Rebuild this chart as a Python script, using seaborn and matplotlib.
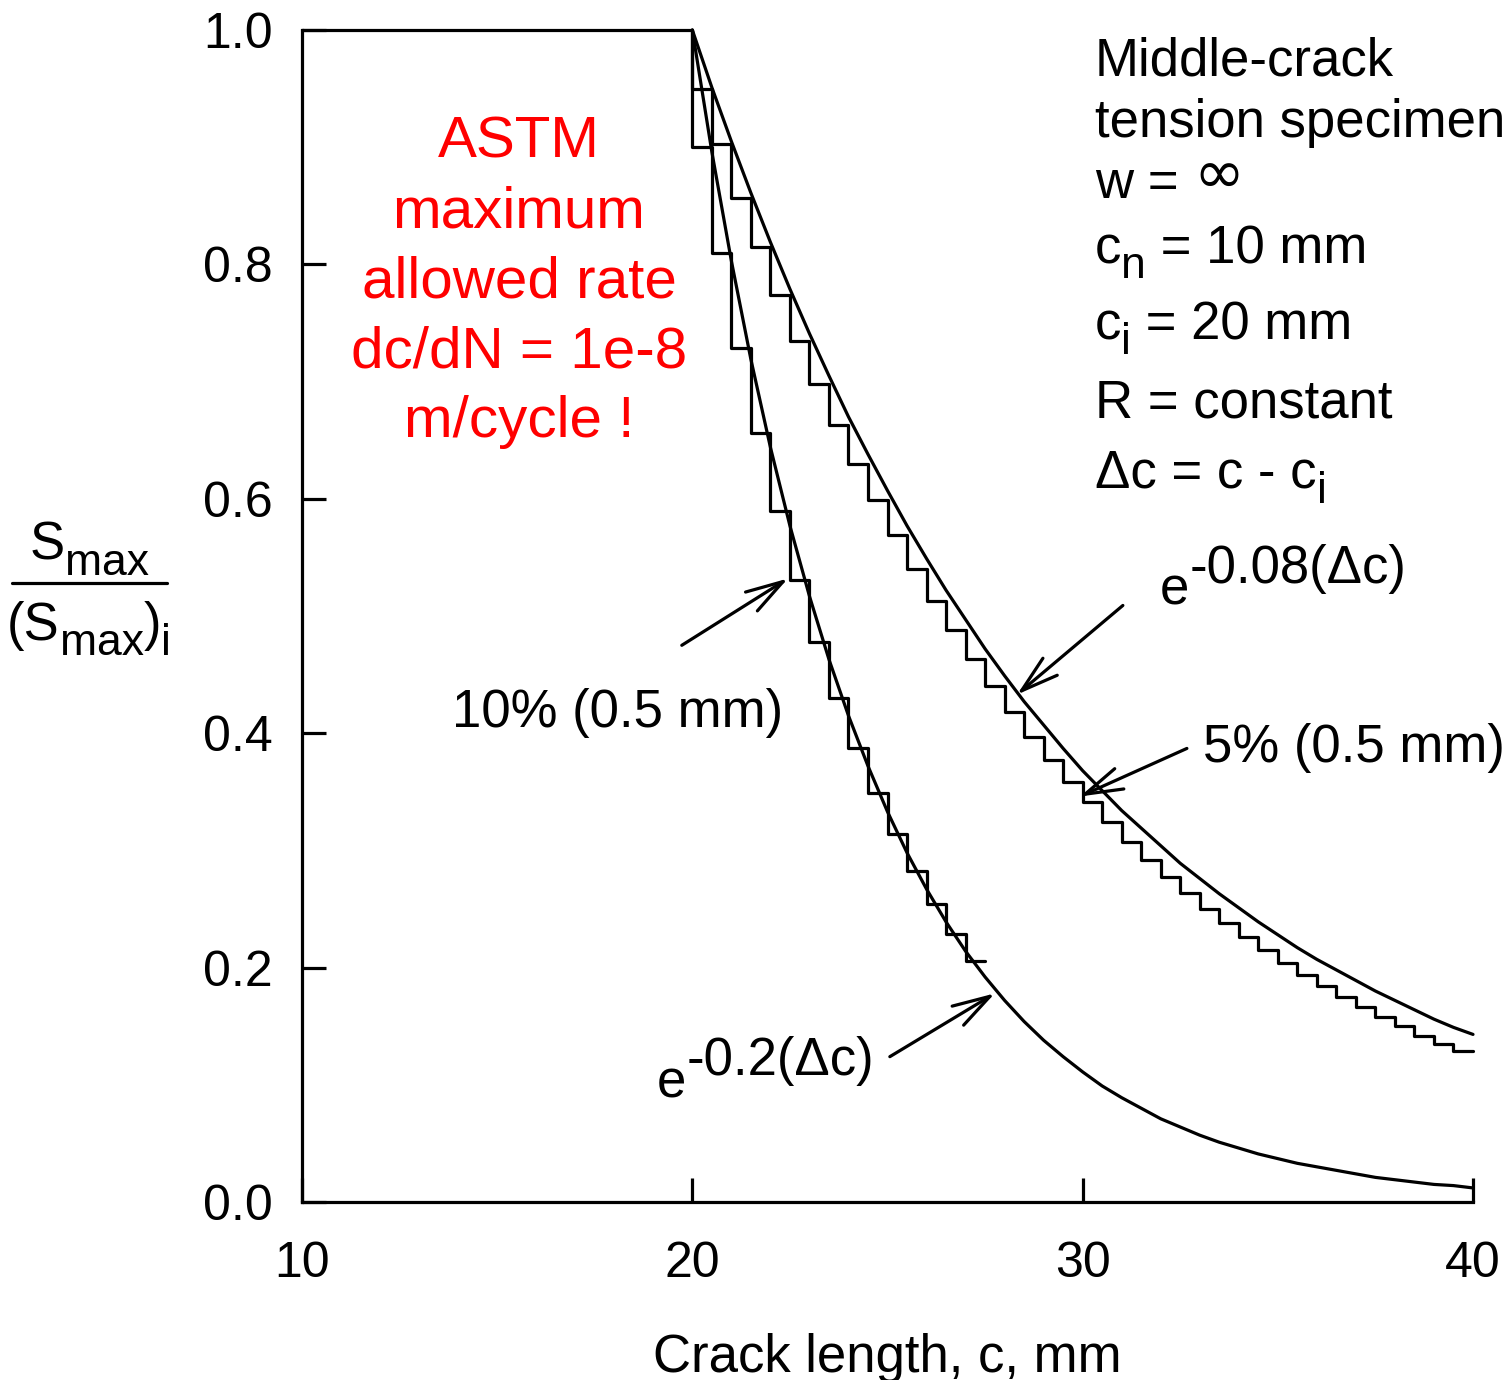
import matplotlib
matplotlib.use("Agg")
import matplotlib.pyplot as plt
from matplotlib.lines import Line2D
import seaborn as sns
import pandas as pd

# ---------------- data ----------------
pre_c = [10.0, 20.0]
pre_s = [1.0, 1.0]

curve_c = [20.0, 20.5, 21.0, 21.5, 22.0, 22.5, 23.0, 23.5, 24.0, 24.5, 25.0,
           25.5, 26.0, 26.5, 27.0, 27.5, 28.0, 28.5, 29.0, 29.5, 30.0,
           30.5, 31.0, 31.5, 32.0, 32.5, 33.0, 33.5, 34.0, 34.5, 35.0,
           35.5, 36.0, 36.5, 37.0, 37.5, 38.0, 38.5, 39.0, 39.5, 40.0]
fast_s = [1.000, 0.896, 0.803, 0.719, 0.644, 0.577, 0.517, 0.463, 0.415, 0.372, 0.333,
          0.298, 0.267, 0.239, 0.214, 0.192, 0.172, 0.154, 0.138, 0.124, 0.111,
          0.099, 0.089, 0.080, 0.071, 0.064, 0.057, 0.051, 0.046, 0.041, 0.037,
          0.033, 0.030, 0.027, 0.024, 0.021, 0.019, 0.017, 0.015, 0.014, 0.012]
slow_s = [1.000, 0.951, 0.905, 0.861, 0.819, 0.779, 0.741, 0.705, 0.670, 0.638, 0.607,
          0.577, 0.549, 0.522, 0.497, 0.472, 0.449, 0.427, 0.407, 0.387, 0.368,
          0.351, 0.334, 0.319, 0.304, 0.289, 0.276, 0.263, 0.251, 0.239, 0.228,
          0.217, 0.207, 0.198, 0.189, 0.180, 0.172, 0.164, 0.156, 0.149, 0.143]

start_c = 20.0
start_s = 1.0
step10_c = [20.0, 20.5, 21.0, 21.5, 22.0, 22.5, 23.0, 23.5, 24.0, 24.5, 25.0, 25.5,
            26.0, 26.5, 27.0]
step10_s = [0.900, 0.810, 0.729, 0.656, 0.590, 0.531, 0.478, 0.430, 0.387, 0.349,
            0.314, 0.282, 0.254, 0.229, 0.206]
step10_end = 27.5
step5_c = [20.0, 20.5, 21.0, 21.5, 22.0, 22.5, 23.0, 23.5, 24.0, 24.5,
           25.0, 25.5, 26.0, 26.5, 27.0, 27.5, 28.0, 28.5, 29.0, 29.5,
           30.0, 30.5, 31.0, 31.5, 32.0, 32.5, 33.0, 33.5, 34.0, 34.5,
           35.0, 35.5, 36.0, 36.5, 37.0, 37.5, 38.0, 38.5, 39.0, 39.5]
step5_s = [0.950, 0.903, 0.857, 0.815, 0.774, 0.735, 0.698, 0.663, 0.630, 0.599,
           0.569, 0.540, 0.513, 0.488, 0.463, 0.440, 0.418, 0.397, 0.377, 0.358,
           0.341, 0.324, 0.307, 0.292, 0.277, 0.264, 0.250, 0.238, 0.226, 0.215,
           0.204, 0.194, 0.184, 0.175, 0.166, 0.158, 0.150, 0.142, 0.135, 0.129]
step5_end = 40.0

x_ticks = [10, 20, 30, 40]
y_ticks = [0.0, 0.2, 0.4, 0.6, 0.8, 1.0]
y_ticklabels = ["0.0", "0.2", "0.4", "0.6", "0.8", "1.0"]

# ---------------- style ----------------
sns.set_theme(style="ticks")
plt.rcParams["font.family"] = ["Liberation Sans", "DejaVu Sans"]
plt.rcParams["axes.linewidth"] = 2.2

W, H = 1512, 1380
fig = plt.figure(figsize=(W / 100, H / 100), dpi=100)
ax = fig.add_axes([302 / W, 1 - 1202 / H, (1473 - 302) / W, (1202 - 30) / H])

LW = 2.3
line_kw = dict(color="black", linewidth=LW, legend=False, estimator=None,
               sort=False, clip_on=False, ax=ax)

# smooth curves
sns.lineplot(data=pd.DataFrame({"c": pre_c, "S": pre_s}), x="c", y="S", **line_kw)
sns.lineplot(data=pd.DataFrame({"c": curve_c, "S": fast_s}), x="c", y="S", **line_kw)
sns.lineplot(data=pd.DataFrame({"c": curve_c, "S": slow_s}), x="c", y="S", **line_kw)

# staircases
df10 = pd.DataFrame({"c": [start_c] + step10_c + [step10_end],
                     "S": [start_s] + step10_s + [step10_s[-1]]})
df5 = pd.DataFrame({"c": [start_c] + step5_c + [step5_end],
                    "S": [start_s] + step5_s + [step5_s[-1]]})
sns.lineplot(data=df10, x="c", y="S", drawstyle="steps-post", **line_kw)
sns.lineplot(data=df5, x="c", y="S", drawstyle="steps-post", **line_kw)

ax.set_xlim(10, 40)
ax.set_ylim(0, 1.0)
ax.set_xticks(x_ticks)
ax.set_xticklabels([str(t) for t in x_ticks])
ax.set_yticks(y_ticks)
ax.set_yticklabels(y_ticklabels)
ax.tick_params(axis="both", direction="in", length=17, width=LW, labelsize=36,
               colors="black")
ax.tick_params(axis="x", pad=28)
ax.tick_params(axis="y", pad=21)
for s in ["top", "right"]:
    ax.spines[s].set_visible(False)
for s in ["left", "bottom"]:
    ax.spines[s].set_color("black")
    ax.spines[s].set_linewidth(LW)
ax.set_ylabel("")
ax.set_xlabel("Crack length, c, mm", fontsize=38, color="black")
ax.xaxis.set_label_coords(0.5, -(1372 - 1202) / (1202 - 30))
ax.xaxis.label.set_va("baseline")

# ---------------- text helpers ----------------
renderer = fig.canvas.get_renderer()


def rich(x, y, pieces, ha="left", color="black"):
    texts = []
    cx = x
    for piece in pieces:
        s, dy, size = piece[:3]
        fam = piece[3] if len(piece) > 3 else None
        kw = {"family": fam} if fam else {}
        t = fig.text(cx / W, 1 - (y + dy) / H, s, fontsize=size, color=color,
                     va="baseline", ha="left", **kw)
        cx += t.get_window_extent(renderer=renderer).width
        texts.append(t)
    total = cx - x
    if ha == "center":
        for t in texts:
            px, py = t.get_position()
            t.set_position((px - total / 2 / W, py))
    return texts


BIG = 38
SUB = 32
SUBDY = 15

# y-axis label as a fraction
rich(89, 560, [("S", 0, BIG), ("max", SUBDY, SUB)], ha="center")
fig.add_artist(Line2D([12 / W, 167 / W], [1 - 583 / H, 1 - 583 / H],
                      transform=fig.transFigure, color="black", linewidth=LW))
rich(89, 640, [("(S", 0, BIG), ("max", SUBDY, SUB), (")", 0, BIG), ("i", SUBDY, SUB)],
     ha="center")

# specimen description
X0 = 1095
rich(X0, 76, [("Middle-crack", 0, BIG)])
rich(X0, 137, [("tension specimen", 0, BIG)])
rich(X0, 198, [("w = ", 0, BIG), ("∞", -4, 44, "DejaVu Sans")])
rich(X0, 263, [("c", 0, BIG), ("n", SUBDY, SUB), (" = 10 mm", 0, BIG)])
rich(X0, 339, [("c", 0, BIG), ("i", SUBDY, SUB), (" = 20 mm", 0, BIG)])
rich(X0, 418, [("R = constant", 0, BIG)])
rich(X0, 488, [("Δc = c - c", 0, BIG), ("i", SUBDY, SUB)])

# red note
red_lines = ["ASTM", "maximum", "allowed rate", "dc/dN = 1e-8", "m/cycle !"]
for i, s in enumerate(red_lines):
    fig.text(519 / W, 1 - (157 + 70 * i) / H, s, fontsize=42, color="#ff0000",
             ha="center", va="baseline")

# curve labels
rich(452, 727, [("10% (0.5 mm)", 0, BIG)])
rich(1203, 762, [("5% (0.5 mm)", 0, BIG)])
rich(1160, 605, [("e", 0, BIG), ("-0.08(Δc)", -22, BIG)])
rich(657, 1097, [("e", 0, BIG), ("-0.2(Δc)", -22, BIG)])

# arrows (tail -> tip, data coordinates)
arrow_tails = [(19.73, 0.475), (31.03, 0.509), (32.67, 0.387), (25.06, 0.124)]
arrow_tips = [(22.45, 0.532), (28.32, 0.433), (29.93, 0.346), (27.75, 0.178)]
for tail, tip in zip(arrow_tails, arrow_tips):
    ax.annotate("", xy=tip, xytext=tail, xycoords="data", textcoords="data",
                annotation_clip=False,
                arrowprops=dict(arrowstyle="->,head_length=2.7,head_width=0.8",
                                mutation_scale=10, color="black", lw=LW,
                                shrinkA=0, shrinkB=0))

fig.savefig("out.png", dpi=100, facecolor="white")
